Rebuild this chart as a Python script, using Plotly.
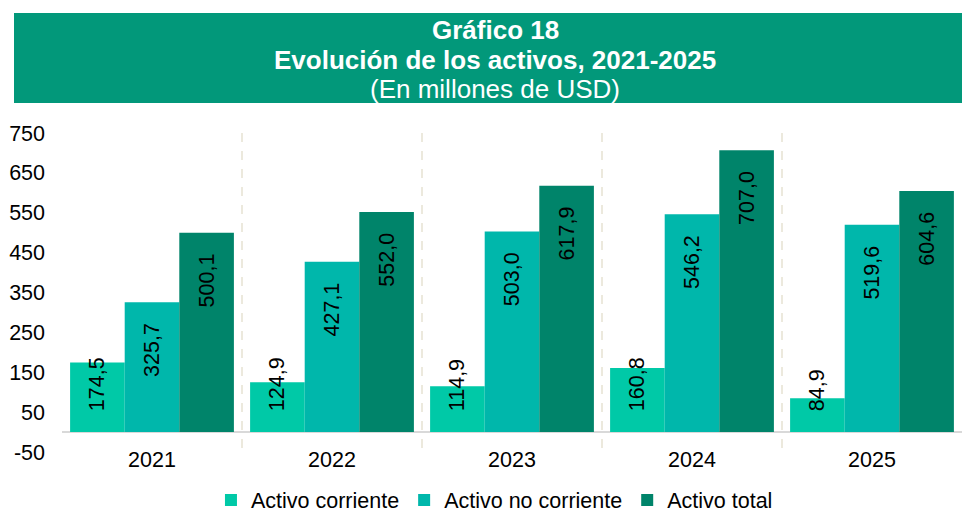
import plotly.graph_objects as go

years = ["2021", "2022", "2023", "2024", "2025"]
activo_corriente = [174.5, 124.9, 114.9, 160.8, 84.9]
activo_no_corriente = [325.7, 427.1, 503.0, 546.2, 519.6]
activo_total = [500.1, 552.0, 617.9, 707.0, 604.6]
y_ticks = [-50, 50, 150, 250, 350, 450, 550, 650, 750]
y_tick_labels = ["-50", "50", "150", "250", "350", "450", "550", "650", "750"]

W, H = 962, 514
L, R, T, B = 62, 0, 133, 62
FONT = "Liberation Sans, Arial, sans-serif"
FS = 21.5
PAD = "\u00a0\u00a0\u00a0"  # nbsp padding keeps labels off the bar ends


def px_x(px):
    return (px - L) / (W - L - R)


def px_y(py):
    return (H - B - py) / (H - T - B)


# name, values, colour, label anchor
series = [
    ("Activo corriente", activo_corriente, "#00C9A7", "start"),
    ("Activo no corriente", activo_no_corriente, "#00B7AB", "end"),
    ("Activo total", activo_total, "#00846A", "end"),
]

fig = go.Figure()
for name, values, color, anchor in series:
    template = PAD + "%{y:.1f}" if anchor == "start" else "%{y:.1f}" + PAD
    fig.add_trace(
        go.Bar(
            name=name,
            x=years,
            y=values,
            marker=dict(color=color, line=dict(width=0)),
            texttemplate=template,
            textposition="inside",
            insidetextanchor=anchor,
            textangle=-90,
            constraintext="none",
            cliponaxis=False,
            textfont=dict(family=FONT, size=FS, color="#000000"),
            hoverinfo="skip",
        )
    )

fig.add_shape(
    type="rect",
    xref="paper",
    yref="paper",
    x0=px_x(14),
    x1=px_x(962),
    y0=px_y(103),
    y1=px_y(13),
    fillcolor="#02987A",
    line=dict(width=0),
    layer="below",
)

titles = [
    ("<b>Gráfico 18</b>", 30),
    ("<b>Evolución de los activos, 2021-2025</b>", 60),
    ("(En millones de USD)", 89),
]
for text, yc in titles:
    fig.add_annotation(
        text=text,
        xref="paper",
        yref="paper",
        x=px_x(495),
        y=px_y(yc),
        xanchor="center",
        yanchor="middle",
        showarrow=False,
        font=dict(family=FONT, size=26, color="#FFFFFF"),
    )

fig.update_layout(
    width=W,
    height=H,
    margin=dict(l=L, r=R, t=T, b=B, autoexpand=False),
    paper_bgcolor="#FFFFFF",
    plot_bgcolor="#FFFFFF",
    separators=",.",
    barmode="group",
    bargap=0.09,
    bargroupgap=0,
    font=dict(family=FONT, size=FS, color="#000000"),
    showlegend=True,
    legend=dict(
        orientation="h",
        xref="container",
        yref="paper",
        x=0.514,
        y=px_y(500),
        xanchor="center",
        yanchor="middle",
        font=dict(family=FONT, size=FS, color="#000000"),
        itemwidth=30,
        tracegroupgap=0,
    ),
    xaxis=dict(
        showgrid=True,
        tickson="boundaries",
        gridcolor="#ECE9DD",
        griddash="dash",
        gridwidth=2,
        showline=False,
        ticks="",
        zeroline=False,
        ticklabelstandoff=-8,
        tickfont=dict(family=FONT, size=FS),
    ),
    yaxis=dict(
        range=[-50, 750],
        tickvals=y_ticks,
        ticktext=y_tick_labels,
        showgrid=False,
        zeroline=True,
        zerolinecolor="#D9D9D9",
        zerolinewidth=2,
        showline=False,
        ticks="",
        ticklabelstandoff=16,
        tickfont=dict(family=FONT, size=FS),
    ),
)

# drop the default page margin so the figure sits at the window corner
fig.write_html(
    "out.html",
    config={"displayModeBar": False},
    post_script="document.body.style.margin = '0';",
)
